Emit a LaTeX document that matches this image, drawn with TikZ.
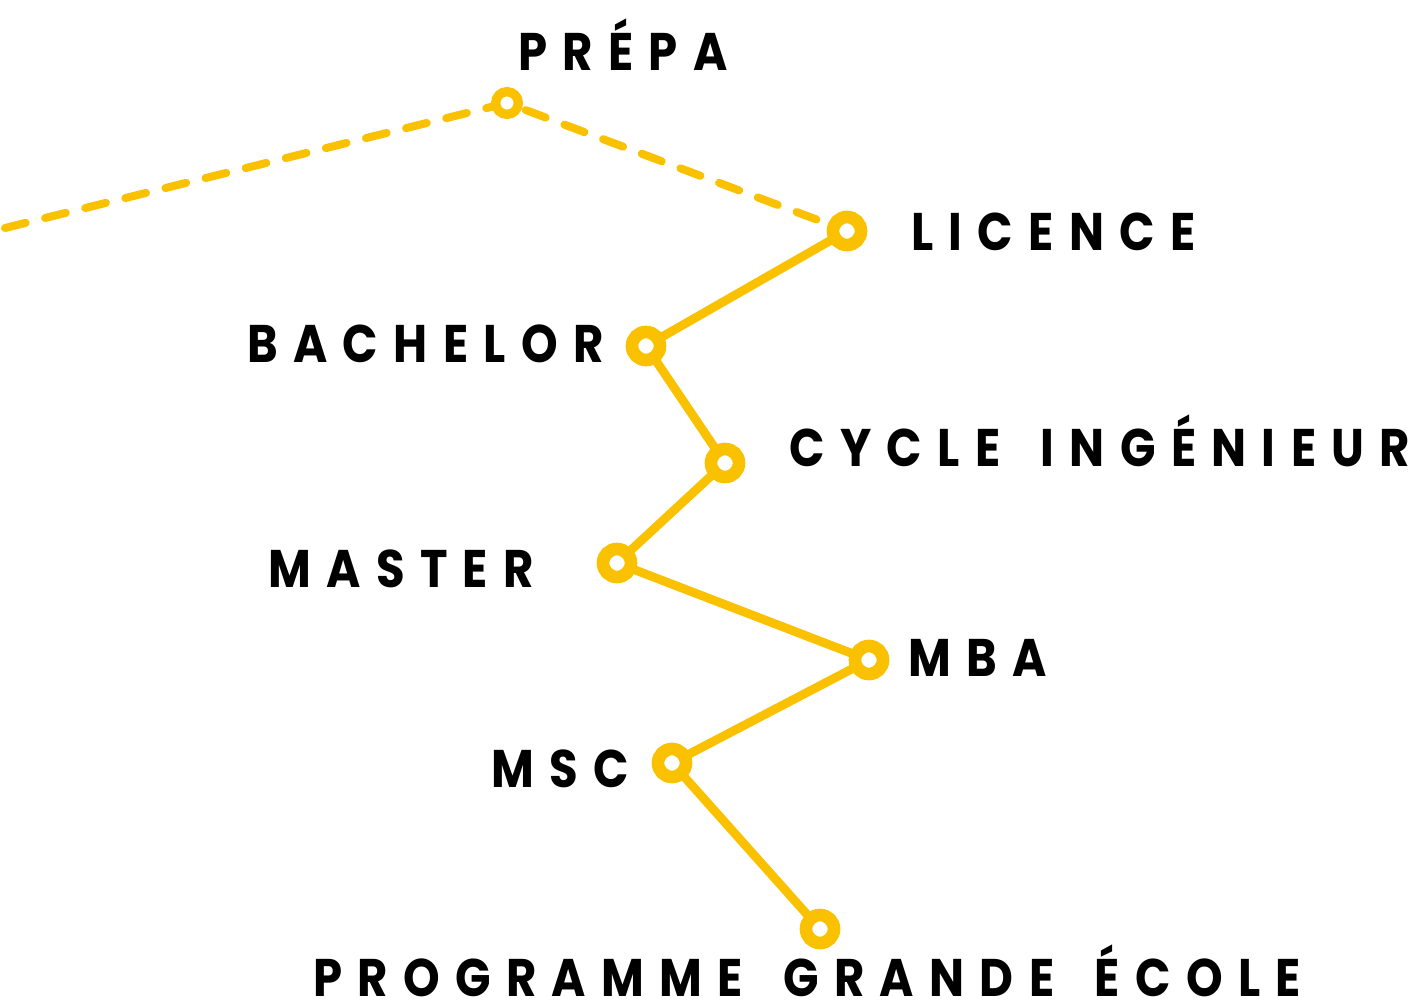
\documentclass[tikz,border=0pt]{standalone}
\usepackage{fontspec}
\newfontfamily\labfont{Poppins}[LetterSpace=29,FakeStretch=0.88,WordSpace=1.6]
\usetikzlibrary{backgrounds}
\definecolor{gold}{RGB}{249,193,0}
\begin{document}
\begin{tikzpicture}[x=0.75pt,y=-0.75pt,
  ring/.style={circle,draw=gold,fill=white,line width=9.5pt,minimum size=21pt,inner sep=0pt},
  smallring/.style={circle,draw=gold,fill=white,line width=7pt,minimum size=17pt,inner sep=0pt},
  link/.style={draw=gold,line width=6.6pt},
  dashlink/.style={draw=gold,line width=6pt,line cap=round,dash pattern=on 16pt off 15pt},
  lab/.style={font=\labfont\bfseries\fontsize{39.7pt}{40pt}\selectfont,text=black,inner sep=0pt,text depth=0pt,anchor=base west}]
\useasboundingbox (0,0) rectangle (1411,1003);
\coordinate (start) at (5,228);
\node[smallring] (prepa) at (507,103) {};
\node[ring] (licence) at (847,231) {};
\node[ring] (bachelor) at (646,346) {};
\node[ring] (cycle) at (725,463) {};
\node[ring] (master) at (617,563) {};
\node[ring] (mba) at (869,660) {};
\node[ring] (msc) at (672,763) {};
\node[ring] (pge) at (820,929) {};
\begin{scope}[on background layer]
\draw[dashlink] (start) -- (prepa.center) -- (licence.center);
\draw[link] (licence.center) -- (bachelor.center) -- (cycle.center) -- (master.center) -- (mba.center) -- (msc.center) -- (pge.center);
\end{scope}
\node[lab] (tprepa) at (518,70) {PRÉPA};
\node[lab] (tlicence) at (911,250) {LICENCE};
\node[lab] (tbachelor) at (247,362) {BACHELOR};
\node[lab] (tcycle) at (789,466) {CYCLE INGÉNIEUR};
\node[lab] (tmaster) at (268,587) {MASTER};
\node[lab] (tmba) at (908,676) {MBA};
\node[lab] (tmsc) at (491,787) {MSC};
\node[lab] (tpge) at (313,996) {PROGRAMME GRANDE ÉCOLE};
\end{tikzpicture}
\end{document}
